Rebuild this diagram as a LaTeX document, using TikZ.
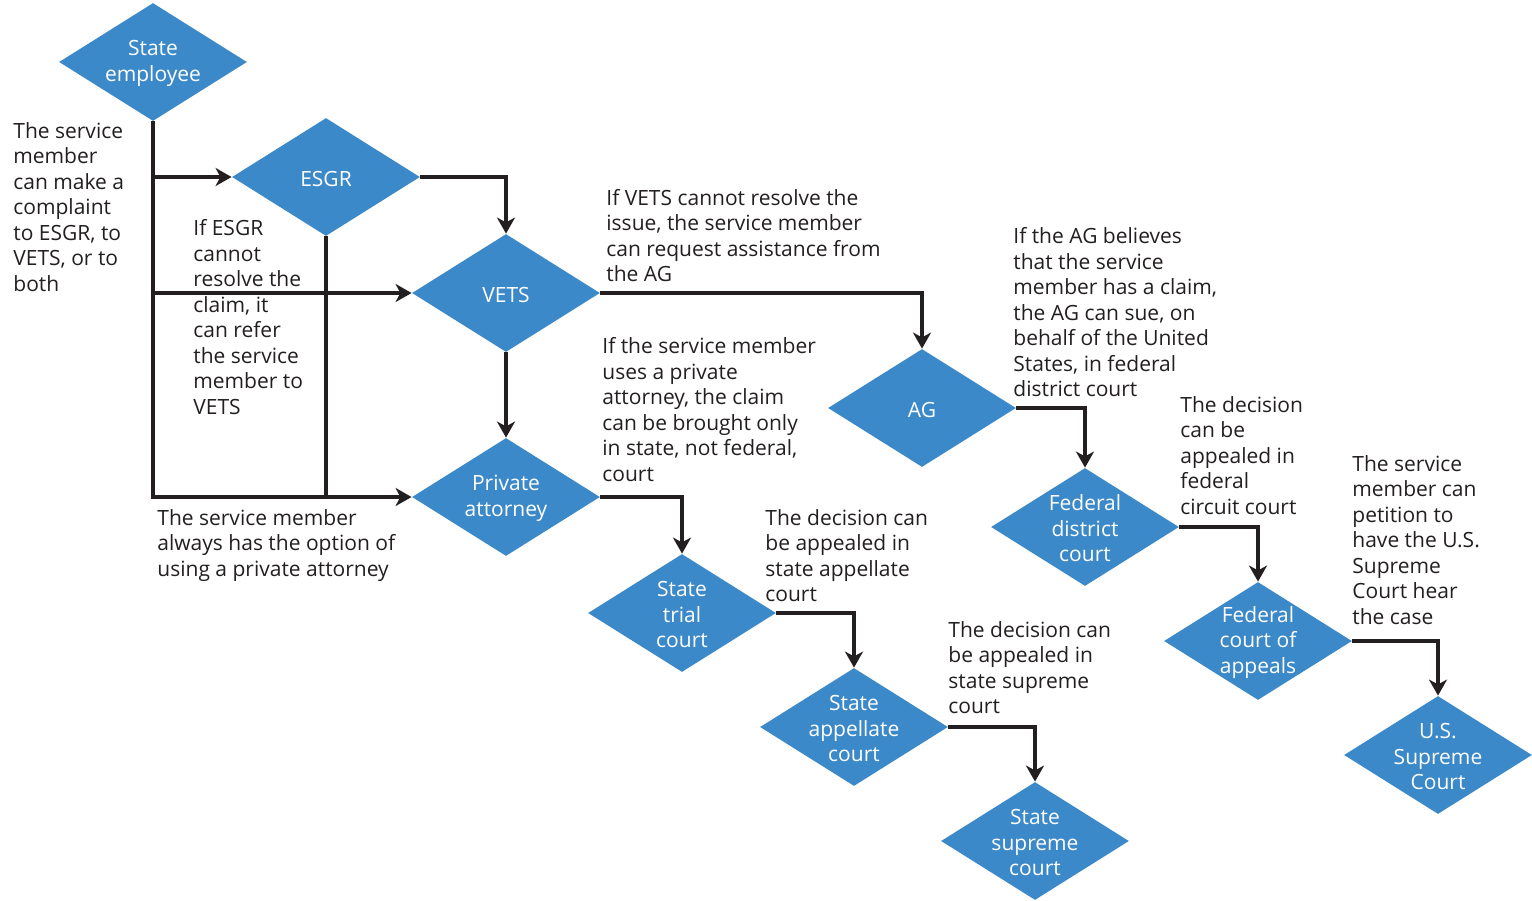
\documentclass[tikz,border=0pt]{standalone}
\usepackage{fontspec}
\setmainfont{Open Sans}
\usetikzlibrary{shapes.geometric,arrows.meta}
\definecolor{dblue}{RGB}{59,137,201}
\definecolor{ink}{RGB}{35,31,32}
\newcommand{\fsz}{\fontsize{10.5pt}{12.75pt}\selectfont}
\begin{document}
\begin{tikzpicture}[x=0.5pt,y=-0.5pt,
  dia/.style={shape=diamond, fill=dblue, draw=none, minimum width=94pt, minimum height=59pt, inner sep=0pt},
  dtext/.style={text=white, font=\fsz, align=center, inner sep=0pt, yshift=-0.75pt},
  note/.style={text=ink, font=\fsz, align=left, anchor=north west, inner sep=0pt},
  conn/.style={draw=ink, line width=1.7pt},
  arr/.style={conn, -{Stealth[length=8pt,width=9pt,inset=2.4pt]}}]
\useasboundingbox (0,0) rectangle (1532,900);

% diamonds
\node[dia] (se) at (153,62) {};
\node[dia] (esgr) at (326,177) {};
\node[dia] (vets) at (506,293) {};
\node[dia] (pa) at (506,497) {};
\node[dia] (ag) at (922,408) {};
\node[dia] (stc) at (682,613) {};
\node[dia] (sac) at (854,727) {};
\node[dia] (ssc) at (1035,841) {};
\node[dia] (fdc) at (1085,527) {};
\node[dia] (fca) at (1258,641) {};
\node[dia] (usc) at (1438,755) {};

\node[dtext] (tse) at (se) {State\\employee};
\node[dtext] (tesgr) at (esgr) {ESGR};
\node[dtext] (tvets) at (vets) {VETS};
\node[dtext] (tpa) at (pa) {Private\\attorney};
\node[dtext] (tag) at (ag) {AG};
\node[dtext] (tstc) at (stc) {State\\trial\\court};
\node[dtext] (tsac) at (sac) {State\\appellate\\court};
\node[dtext] (tssc) at (ssc) {State\\supreme\\court};
\node[dtext] (tfdc) at (fdc) {Federal\\district\\court};
\node[dtext] (tfca) at (fca) {Federal\\court of\\appeals};
\node[dtext] (tusc) at (usc) {U.S.\\Supreme\\Court};

% junctions
\coordinate (j1) at (se.south |- esgr.west);
\coordinate (j2) at (se.south |- vets.west);
\coordinate (j3) at (se.south |- pa.west);
\coordinate (j4) at (esgr.south |- pa.west);

% connectors
\draw[arr] (se.south) -- (j3) -- (pa.west);
\draw[arr] (j1) -- (esgr.west);
\draw[arr] (j2) -- (vets.west);
\draw[conn] (esgr.south) -- (j4);
\draw[arr] (esgr.east) -| (vets.north);
\draw[arr] (vets.south) -- (pa.north);
\draw[arr] (vets.east) -| (ag.north);
\draw[arr] (ag.east) -| (fdc.north);
\draw[arr] (pa.east) -| (stc.north);
\draw[arr] (stc.east) -| (sac.north);
\draw[arr] (sac.east) -| (ssc.north);
\draw[arr] (fdc.east) -| (fca.north);
\draw[arr] (fca.east) -| (usc.north);

% notes
\node[note] (n1) at (13,119.85) {\strut The service\\member\\can make a\\complaint\\to ESGR, to\\VETS, or to\\both};
\node[note] (n2) at (193,217.65) {\strut If ESGR\\cannot\\resolve the\\claim, it\\can refer\\the service\\member to\\VETS};
\node[note] (n3) at (606,187.15) {\strut If VETS cannot resolve the\\issue, the service member\\can request assistance from\\the AG};
\node[note] (n4) at (1013,225.45) {\strut If the AG believes\\that the service\\member has a claim,\\the AG can sue, on\\behalf of the United\\States, in federal\\district court};
\node[note] (n5) at (602,335.45) {\strut If the service member\\uses a private\\attorney, the claim\\can be brought only\\in state, not federal,\\court};
\node[note] (n6) at (157,507.15) {\strut The service member\\always has the option of\\using a private attorney};
\node[note] (n7) at (765,507.15) {\strut The decision can\\be appealed in\\state appellate\\court};
\node[note] (n8) at (1180,393.85) {\strut The decision\\can be\\appealed in\\federal\\circuit court};
\node[note] (n9) at (1352,452.85) {\strut The service\\member can\\petition to\\have the U.S.\\Supreme\\Court hear\\the case};
\node[note] (n10) at (948,618.85) {\strut The decision can\\be appealed in\\state supreme\\court};
\end{tikzpicture}
\end{document}
